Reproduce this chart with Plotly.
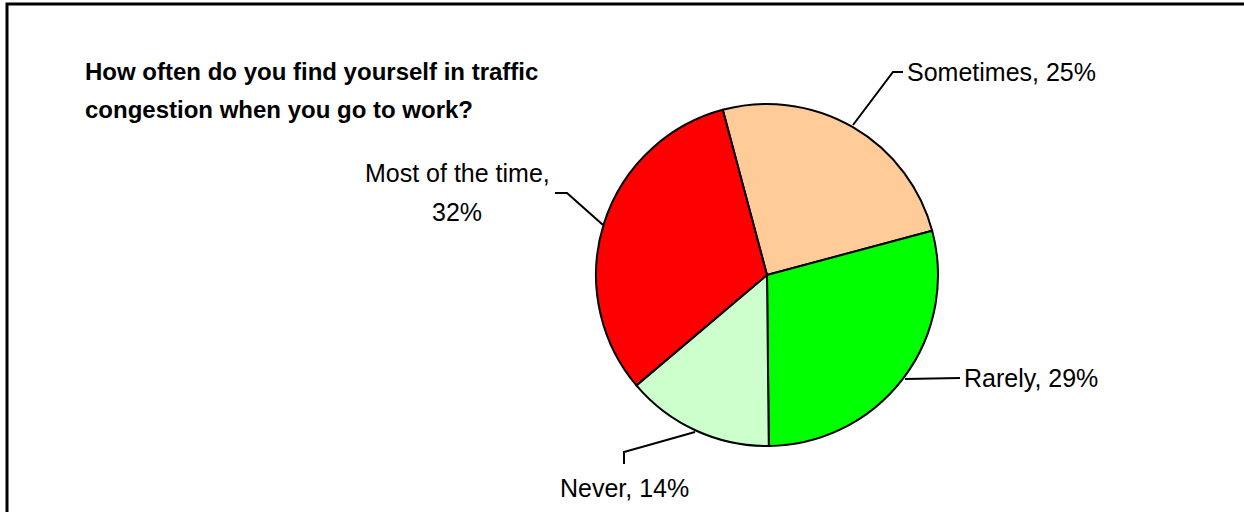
import plotly.graph_objects as go

W, H = 1244, 512

# ---- data ----
categories = ["Sometimes", "Rarely", "Never", "Most of the time"]
values = [25, 29, 14, 32]
colors = ["#FFCC99", "#00FF00", "#CCFFCC", "#FF0000"]
title_lines = ["How often do you find yourself in traffic",
               "congestion when you go to work?"]

def px(x):
    return x / W

def py(y):
    return 1 - y / H

fig = go.Figure()
fig.add_trace(go.Pie(
    labels=categories,
    values=values,
    sort=False,
    direction="clockwise",
    rotation=-15,
    marker=dict(colors=colors, line=dict(color="black", width=2)),
    textinfo="none",
    hoverinfo="skip",
    showlegend=False,
    domain=dict(x=[px(596), px(938)], y=[py(446), py(104)]),
))

FONT = "Liberation Sans"
LBL = dict(family=FONT, size=25, color="black")

ann = []
# title
for i, t in enumerate(title_lines):
    ann.append(dict(text=t, x=px(83), y=py(71 + 38 * i), xref="paper", yref="paper",
                    xanchor="left", yanchor="middle", showarrow=False,
                    font=dict(family=FONT, size=24, color="black", weight="bold")))

lab = {c: f"{c}, {v}%" for c, v in zip(categories, values)}
# Sometimes
ann.append(dict(text=lab["Sometimes"], x=px(905), y=py(72), xanchor="left", yanchor="middle"))
# Rarely
ann.append(dict(text=lab["Rarely"], x=px(962), y=py(378), xanchor="left", yanchor="middle"))
# Never
ann.append(dict(text=lab["Never"], x=px(624), y=py(488), xanchor="center", yanchor="middle"))
# Most of the time (two lines)
ann.append(dict(text=f"{categories[3]},", x=px(457), y=py(173), xanchor="center", yanchor="middle"))
ann.append(dict(text=f"{values[3]}%", x=px(457), y=py(212), xanchor="center", yanchor="middle"))
for a in ann[2:]:
    a.update(xref="paper", yref="paper", showarrow=False, font=LBL)

def path(pts):
    d = "M " + " L ".join(f"{px(x)},{py(y)}" for x, y in pts)
    return dict(type="path", path=d, xref="paper", yref="paper",
                line=dict(color="black", width=2), layer="above")

shapes = [
    path([(853, 125), (893, 72), (903, 72)]),
    path([(905, 379), (960, 378)]),
    path([(695, 432), (624, 452), (624, 464)]),
    path([(555, 193), (567, 193), (603, 225)]),
    # frame
    dict(type="path", path=f"M {px(7)},{py(H + 5)} L {px(7)},{py(4)} L {px(W + 5)},{py(4)}",
         xref="paper", yref="paper", line=dict(color="black", width=3)),
]

fig.update_layout(
    width=W, height=H,
    margin=dict(l=0, r=0, t=0, b=0),
    paper_bgcolor="white", plot_bgcolor="white",
    annotations=ann, shapes=shapes,
)

fig.write_html("out.html", config={"displayModeBar": False},
               post_script="document.body.style.margin='0';")
